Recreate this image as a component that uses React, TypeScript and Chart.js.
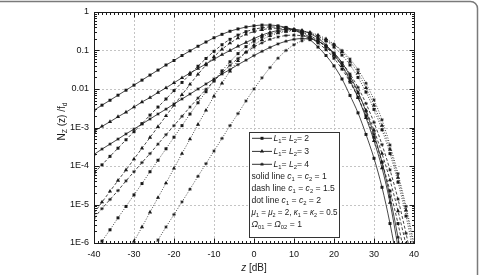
import React, { useEffect, useRef } from 'react';
import { Chart, registerables } from 'chart.js';

Chart.register(...registerables);

// Level crossing rate N_z(z)/f_d versus threshold z [dB]
const zDb = [-40, -38, -36, -34, -32, -30, -28, -26, -24, -22, -20, -18, -16, -14, -12, -10, -8, -6, -4, -2, 0, 2, 4, 6, 8, 10, 12, 14, 16, 18, 20, 22, 24, 26, 28, 30, 32, 34, 36, 38, 40];

// solid line: c1 = c2 = 1
const solidL2 = [2.8e-3, 3.8e-3, 5.1e-3, 6.9e-3, 9.3e-3, 1.26e-2, 1.7e-2, 2.3e-2, 3.1e-2, 4.2e-2, 5.5e-2, 7.4e-2, 9.8e-2, 0.129, 0.166, 0.214, 0.263, 0.316, 0.363, 0.407, 0.437, 0.457, 0.457, 0.437, 0.398, 0.339, 0.269, 0.191, 0.123, 7.4e-2, 3.98e-2, 1.82e-2, 6.8e-3, 2.4e-3, 6.6e-4, 1.58e-4, 2.8e-5, 3.2e-6, 2.5e-7, null, null];
const solidL3 = [7.9e-4, 1.07e-3, 1.41e-3, 1.9e-3, 2.5e-3, 3.4e-3, 4.6e-3, 6.0e-3, 8.1e-3, 1.07e-2, 1.45e-2, 1.95e-2, 2.6e-2, 3.4e-2, 4.5e-2, 5.9e-2, 7.8e-2, 0.1, 0.129, 0.162, 0.204, 0.251, 0.295, 0.331, 0.355, 0.355, 0.331, 0.275, 0.209, 0.138, 7.9e-2, 3.98e-2, 1.66e-2, 6.0e-3, 1.78e-3, 4.5e-4, 8.9e-5, 1.12e-5, 7.9e-7, 5e-8, null];
const solidL4 = [2.0e-4, 2.75e-4, 3.7e-4, 5.0e-4, 6.8e-4, 9.1e-4, 1.23e-3, 1.66e-3, 2.24e-3, 3.0e-3, 4.1e-3, 5.5e-3, 7.4e-3, 1.0e-2, 1.35e-2, 1.82e-2, 2.45e-2, 3.2e-2, 4.3e-2, 5.6e-2, 7.4e-2, 9.5e-2, 0.12, 0.148, 0.174, 0.195, 0.204, 0.2, 0.174, 0.132, 8.7e-2, 4.8e-2, 2.2e-2, 8.3e-3, 2.6e-3, 6.6e-4, 1.26e-4, 1.58e-5, 1.41e-6, 1e-7, null];

// dash line: c1 = c2 = 1.5
const dashL2 = [6.6e-5, 1.07e-4, 1.78e-4, 2.9e-4, 4.8e-4, 7.8e-4, 1.26e-3, 2.1e-3, 3.4e-3, 5.5e-3, 9.1e-3, 1.48e-2, 2.4e-2, 3.9e-2, 6.2e-2, 9.5e-2, 0.141, 0.195, 0.251, 0.309, 0.355, 0.389, 0.407, 0.407, 0.389, 0.347, 0.288, 0.219, 0.158, 0.105, 6.3e-2, 3.3e-2, 1.51e-2, 6.0e-3, 2.0e-3, 5.6e-4, 1.26e-4, 2.24e-5, 3.2e-6, 3.2e-7, null];
const dashL3 = [6.0e-6, 1.15e-5, 2.2e-5, 4.2e-5, 7.9e-5, 1.51e-4, 2.9e-4, 5.5e-4, 1.05e-3, 2.0e-3, 3.8e-3, 7.1e-3, 1.32e-2, 2.4e-2, 4.2e-2, 6.9e-2, 0.107, 0.155, 0.209, 0.263, 0.309, 0.347, 0.372, 0.38, 0.372, 0.347, 0.302, 0.245, 0.182, 0.123, 7.4e-2, 3.98e-2, 1.9e-2, 7.9e-3, 2.8e-3, 8.5e-4, 2.1e-4, 4.3e-5, 6.8e-6, 8.9e-7, 1e-7];
const dashL4 = [4.5e-6, 7.8e-6, 1.35e-5, 2.3e-5, 4.1e-5, 7.1e-5, 1.23e-4, 2.1e-4, 3.7e-4, 6.5e-4, 1.12e-3, 1.95e-3, 3.4e-3, 5.8e-3, 9.8e-3, 1.62e-2, 2.6e-2, 4.1e-2, 6.2e-2, 8.9e-2, 0.123, 0.158, 0.195, 0.224, 0.245, 0.251, 0.24, 0.214, 0.174, 0.126, 8.3e-2, 4.8e-2, 2.45e-2, 1.1e-2, 4.2e-3, 1.35e-3, 3.6e-4, 7.9e-5, 1.38e-5, 1.78e-6, 2e-7];

// dot line: c1 = c2 = 2
const dotL2 = [5.6e-7, 1.12e-6, 2.2e-6, 4.5e-6, 8.9e-6, 1.78e-5, 3.5e-5, 7.1e-5, 1.41e-4, 2.8e-4, 5.6e-4, 1.12e-3, 2.24e-3, 4.4e-3, 8.5e-3, 1.62e-2, 2.95e-2, 5.1e-2, 8.3e-2, 0.126, 0.174, 0.224, 0.269, 0.302, 0.324, 0.331, 0.316, 0.282, 0.234, 0.178, 0.123, 7.6e-2, 4.2e-2, 2.0e-2, 8.3e-3, 2.95e-3, 8.7e-4, 2.1e-4, 3.8e-5, 5.0e-6, 5.0e-7];
const dotL3 = [null, null, null, null, 4.6e-7, 1.1e-6, 2.6e-6, 6.3e-6, 1.51e-5, 3.6e-5, 8.7e-5, 2.1e-4, 5.0e-4, 1.2e-3, 2.8e-3, 6.5e-3, 1.41e-2, 2.9e-2, 5.4e-2, 9.1e-2, 0.138, 0.191, 0.24, 0.282, 0.309, 0.324, 0.316, 0.295, 0.251, 0.2, 0.145, 9.3e-2, 5.2e-2, 2.6e-2, 1.07e-2, 3.8e-3, 1.12e-3, 2.7e-4, 5.0e-5, 7.1e-6, 7.9e-7];
const dotL4 = [null, null, null, null, null, null, null, 5.6e-7, 1.2e-6, 2.6e-6, 5.5e-6, 1.17e-5, 2.5e-5, 5.4e-5, 1.15e-4, 2.45e-4, 5.2e-4, 1.12e-3, 2.3e-3, 4.9e-3, 1.0e-2, 1.95e-2, 3.6e-2, 6.3e-2, 0.1, 0.141, 0.178, 0.2, 0.2, 0.178, 0.141, 0.1, 6.0e-2, 3.2e-2, 1.41e-2, 5.2e-3, 1.58e-3, 3.5e-4, 6.3e-5, 8.9e-6, 1.0e-6];

const xTickValues = [-40, -30, -20, -10, 0, 10, 20, 30, 40];
const yTickValues = [1e-6, 1e-5, 1e-4, 1e-3, 1e-2, 1e-1, 1];
const yTickLabels = ['1E-6', '1E-5', '1E-4', '1E-3', '0.01', '0.1', '1'];

const FONT = '"Liberation Sans", Arial, Helvetica, sans-serif';
const INK = '#1a1a1a';

type Marker = 'rect' | 'triangle' | 'star';
type Seg = { t: string; sub?: boolean; it?: boolean };

const lineDash: Record<string, number[]> = { solid: [], dash: [3, 2], dot: [1, 1.6] };

const seriesDefs: { data: (number | null)[]; style: string; marker: Marker }[] = [
  { data: solidL2, style: 'solid', marker: 'rect' },
  { data: solidL3, style: 'solid', marker: 'triangle' },
  { data: solidL4, style: 'solid', marker: 'star' },
  { data: dashL2, style: 'dash', marker: 'rect' },
  { data: dashL3, style: 'dash', marker: 'triangle' },
  { data: dashL4, style: 'dash', marker: 'star' },
  { data: dotL2, style: 'dot', marker: 'rect' },
  { data: dotL3, style: 'dot', marker: 'triangle' },
  { data: dotL4, style: 'dot', marker: 'star' },
];

const markerRadius: Record<Marker, number> = { rect: 2.1, triangle: 2.4, star: 1.7 };

function richWidth(ctx: CanvasRenderingContext2D, segs: Seg[], size: number) {
  let w = 0;
  for (const s of segs) {
    const fs = s.sub ? size * 0.68 : size;
    ctx.font = `${s.it ? 'italic ' : ''}${fs}px ${FONT}`;
    w += ctx.measureText(s.t).width;
  }
  return w;
}

function drawRich(ctx: CanvasRenderingContext2D, segs: Seg[], x: number, y: number, size: number, maxW?: number) {
  const full = richWidth(ctx, segs, size);
  const k = maxW && full > maxW ? maxW / full : 1;
  ctx.save();
  ctx.translate(x, y);
  ctx.scale(k, 1);
  let cx = 0;
  for (const s of segs) {
    const fs = s.sub ? size * 0.68 : size;
    ctx.font = `${s.it ? 'italic ' : ''}${fs}px ${FONT}`;
    ctx.fillText(s.t, cx, s.sub ? size * 0.32 : 0);
    cx += ctx.measureText(s.t).width;
  }
  ctx.restore();
  return full * k;
}

function drawMarker(ctx: CanvasRenderingContext2D, m: Marker, x: number, y: number) {
  const r = markerRadius[m];
  ctx.beginPath();
  if (m === 'rect') {
    const s = r * Math.SQRT1_2;
    ctx.rect(x - s, y - s, 2 * s, 2 * s);
    ctx.fill();
  } else if (m === 'triangle') {
    ctx.moveTo(x, y - r);
    ctx.lineTo(x + r * 0.866, y + r * 0.5);
    ctx.lineTo(x - r * 0.866, y + r * 0.5);
    ctx.closePath();
    ctx.fill();
  } else {
    ctx.moveTo(x - r, y); ctx.lineTo(x + r, y);
    ctx.moveTo(x, y - r); ctx.lineTo(x, y + r);
    const d = r * Math.SQRT1_2;
    ctx.moveTo(x - d, y - d); ctx.lineTo(x + d, y + d);
    ctx.moveTo(x - d, y + d); ctx.lineTo(x + d, y - d);
    ctx.stroke();
  }
}

const legendRows: { marker?: Marker; segs: Seg[] }[] = [
  { marker: 'rect', segs: [{ t: 'L', it: true }, { t: '1', sub: true }, { t: '= ' }, { t: 'L', it: true }, { t: '2', sub: true }, { t: '= 2' }] },
  { marker: 'triangle', segs: [{ t: 'L', it: true }, { t: '1', sub: true }, { t: '= ' }, { t: 'L', it: true }, { t: '2', sub: true }, { t: '= 3' }] },
  { marker: 'star', segs: [{ t: 'L', it: true }, { t: '1', sub: true }, { t: '= ' }, { t: 'L', it: true }, { t: '2', sub: true }, { t: '= 4' }] },
  { segs: [{ t: 'solid line ' }, { t: 'c', it: true }, { t: '1', sub: true }, { t: ' = ' }, { t: 'c', it: true }, { t: '2', sub: true }, { t: ' = 1' }] },
  { segs: [{ t: 'dash line ' }, { t: 'c', it: true }, { t: '1', sub: true }, { t: ' = ' }, { t: 'c', it: true }, { t: '2', sub: true }, { t: ' = 1.5' }] },
  { segs: [{ t: 'dot line ' }, { t: 'c', it: true }, { t: '1', sub: true }, { t: ' = ' }, { t: 'c', it: true }, { t: '2', sub: true }, { t: ' = 2' }] },
  { segs: [{ t: 'μ', it: true }, { t: '1', sub: true }, { t: ' = ' }, { t: 'μ', it: true }, { t: '2', sub: true }, { t: ' = 2, ' }, { t: 'κ', it: true }, { t: '1', sub: true }, { t: ' = ' }, { t: 'κ', it: true }, { t: '2', sub: true }, { t: ' = 0.5' }] },
  { segs: [{ t: 'Ω', it: true }, { t: '01', sub: true }, { t: ' = ' }, { t: 'Ω', it: true }, { t: '02', sub: true }, { t: ' = 1' }] },
];
const legendRowY = [138.3, 151.4, 164.3, 177, 189, 200.8, 212.5, 224.4];

const decorations = {
  id: 'decorations',
  beforeDatasetsDraw(chart: any) {
    const { ctx, chartArea: a, scales } = chart;
    const xs = scales.x;
    const ys = scales.y;
    ctx.save();
    ctx.strokeStyle = '#c4c4c4';
    ctx.lineWidth = 1;
    ctx.setLineDash([2, 2]);
    for (const v of xTickValues.slice(1, -1)) {
      const px = Math.round(xs.getPixelForValue(v)) + 0.5;
      ctx.beginPath(); ctx.moveTo(px, a.top); ctx.lineTo(px, a.bottom); ctx.stroke();
    }
    for (const v of yTickValues.slice(1, -1)) {
      const py = Math.round(ys.getPixelForValue(v)) + 0.5;
      ctx.beginPath(); ctx.moveTo(a.left, py); ctx.lineTo(a.right, py); ctx.stroke();
    }
    ctx.restore();
  },
  afterDatasetsDraw(chart: any) {
    const { ctx, chartArea: a, scales } = chart;
    const xs = scales.x;
    const ys = scales.y;
    ctx.save();
    ctx.setLineDash([]);
    ctx.strokeStyle = INK;
    ctx.lineWidth = 1;
    const L = Math.round(a.left) + 0.5, R = Math.round(a.right) + 0.5;
    const T = Math.round(a.top) + 0.5, B = Math.round(a.bottom) + 0.5;
    ctx.strokeRect(L, T, R - L, B - T);

    // inward ticks on all four sides
    ctx.beginPath();
    for (let v = xTickValues[0]; v <= xTickValues[xTickValues.length - 1]; v += 1) {
      const px = Math.round(xs.getPixelForValue(v)) + 0.5;
      const len = v % 10 === 0 ? 5 : 2.5;
      ctx.moveTo(px, B); ctx.lineTo(px, B - len);
      ctx.moveTo(px, T); ctx.lineTo(px, T + len);
    }
    for (let i = 0; i < yTickValues.length; i++) {
      const d = yTickValues[i];
      const py = Math.round(ys.getPixelForValue(d)) + 0.5;
      ctx.moveTo(L, py); ctx.lineTo(L + 5, py);
      ctx.moveTo(R, py); ctx.lineTo(R - 5, py);
      if (i < yTickValues.length - 1) {
        for (let m = 2; m <= 9; m++) {
          const pm = Math.round(ys.getPixelForValue(d * m)) + 0.5;
          ctx.moveTo(L, pm); ctx.lineTo(L + 2.5, pm);
          ctx.moveTo(R, pm); ctx.lineTo(R - 2.5, pm);
        }
      }
    }
    ctx.stroke();

    // legend box
    const bx = 249.5, by = 132.5, bw = 90, bh = 105;
    ctx.fillStyle = '#ffffff';
    ctx.fillRect(bx, by, bw, bh);
    ctx.strokeStyle = '#333';
    ctx.strokeRect(bx, by, bw, bh);
    ctx.fillStyle = INK;
    ctx.strokeStyle = INK;
    ctx.textBaseline = 'middle';
    ctx.textAlign = 'left';
    legendRows.forEach((row, i) => {
      const y = legendRowY[i];
      if (row.marker) {
        ctx.lineWidth = 0.9;
        ctx.beginPath(); ctx.moveTo(252, y); ctx.lineTo(272, y); ctx.stroke();
        ctx.lineWidth = 0.8;
        drawMarker(ctx, row.marker, 262, y);
        drawRich(ctx, row.segs, 273.5, y, 8.6, 64);
      } else {
        drawRich(ctx, row.segs, 251.5, y, 8.6, 86);
      }
    });

    // axis titles
    const ySegs: Seg[] = [{ t: 'N' }, { t: 'Z', sub: true }, { t: ' (z) /f' }, { t: 'd', sub: true }];
    ctx.save();
    ctx.translate(62, 121.5);
    ctx.rotate(-Math.PI / 2);
    const w = richWidth(ctx, ySegs, 10);
    drawRich(ctx, ySegs, -w / 2, 0, 10);
    ctx.restore();

    const xSegs: Seg[] = [{ t: 'z', it: true }, { t: ' [dB]' }];
    const xw = richWidth(ctx, xSegs, 10);
    drawRich(ctx, xSegs, 254 - xw / 2, 268.5, 10);

    // outer panel border
    ctx.strokeStyle = '#7a7a7a';
    ctx.lineWidth = 1.5;
    ctx.beginPath();
    ctx.roundRect(-20, 1.5, 497.5, 300, 7);
    ctx.stroke();
    ctx.restore();
  },
};

export default function App() {
  const canvasRef = useRef<HTMLCanvasElement | null>(null);

  useEffect(() => {
    const canvas = canvasRef.current;
    if (!canvas) return;
    const datasets = seriesDefs.map((s) => ({
      data: zDb.map((z, i) => ({ x: z, y: s.data[i] })),
      borderColor: INK,
      backgroundColor: INK,
      borderWidth: 0.8,
      borderDash: lineDash[s.style],
      pointStyle: s.marker,
      pointRadius: markerRadius[s.marker],
      pointBorderWidth: s.marker === 'star' ? 0.8 : 0,
      pointBackgroundColor: INK,
      pointBorderColor: INK,
      cubicInterpolationMode: 'monotone' as const,
      fill: false,
    }));

    const chart = new Chart(canvas, {
      type: 'line',
      data: { datasets },
      options: {
        animation: false,
        responsive: false,
        devicePixelRatio: 1,
        events: [],
        layout: { padding: { left: 0, top: 12, right: 66, bottom: 0 } },
        plugins: { legend: { display: false }, tooltip: { enabled: false } },
        scales: {
          x: {
            type: 'linear',
            min: -40,
            max: 40,
            grid: { display: false, drawTicks: false },
            border: { display: false },
            afterFit: (s: any) => { s.height = 32; },
            ticks: {
              stepSize: 10,
              maxRotation: 0,
              padding: 6,
              color: '#111',
              font: { family: FONT, size: 9 },
            },
          },
          y: {
            type: 'logarithmic',
            min: 1e-6,
            max: 1,
            grid: { display: false, drawTicks: false },
            border: { display: false },
            afterFit: (s: any) => { s.width = 94; },
            afterBuildTicks: (s: any) => { s.ticks = yTickValues.map((v) => ({ value: v })); },
            ticks: {
              autoSkip: false,
              padding: 5,
              color: '#111',
              font: { family: FONT, size: 9 },
              callback: (_v: any, i: number) => yTickLabels[i],
            },
          },
        },
      },
      plugins: [decorations],
    });
    return () => chart.destroy();
  }, []);

  return (
    <div style={{ position: 'absolute', left: 0, top: 0, width: 480, height: 275, background: '#fff' }}>
      <canvas ref={canvasRef} width={480} height={275} style={{ display: 'block' }} />
    </div>
  );
}
